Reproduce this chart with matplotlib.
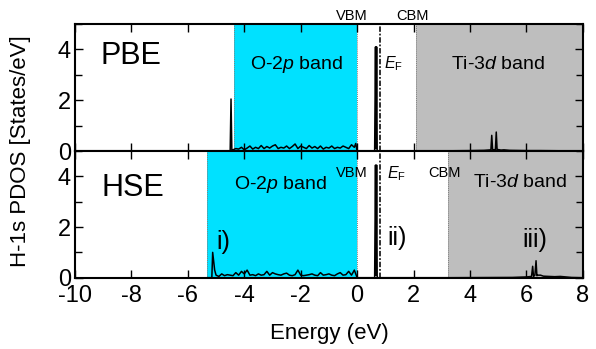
import numpy as np
import matplotlib.pyplot as plt
from matplotlib.ticker import MultipleLocator

plt.rcParams["font.family"] = ["Liberation Sans", "DejaVu Sans"]
plt.rcParams["mathtext.fontset"] = "custom"
plt.rcParams["mathtext.rm"] = "Liberation Sans"
plt.rcParams["mathtext.it"] = "Liberation Sans:italic"
plt.rcParams["axes.unicode_minus"] = False

# H-1s PDOS (energy in eV, states/eV)
pbe_energy = [-4.60, -4.50, -4.47, -4.44, -4.40, -4.30, -4.20, -4.10, -4.00, -3.90, -3.80, -3.70,
              -3.60, -3.50, -3.40, -3.30, -3.20, -3.10, -3.00, -2.90, -2.80, -2.70, -2.60,
              -2.50, -2.40, -2.30, -2.20, -2.10, -2.00, -1.90, -1.80, -1.70, -1.60, -1.50,
              -1.40, -1.30, -1.20, -1.10, -1.00, -0.90, -0.80, -0.70, -0.60, -0.50, -0.40,
              -0.30, -0.20, -0.10, -0.05, 0.00, 0.62, 0.65, 0.67, 0.69, 0.71, 0.73, 2.10,
              4.00, 4.50, 4.74, 4.77, 4.80, 4.90, 4.93, 4.96, 5.00, 5.10, 5.20, 5.40, 6.00,
              6.50, 7.50, 8.00]
pbe_dos = [0.00, 0.00, 2.05, 0.00, 0.05, 0.10, 0.08, 0.15, 0.05, 0.12, 0.20, 0.08,
           0.15, 0.10, 0.22, 0.10, 0.18, 0.12, 0.20, 0.25, 0.10, 0.15, 0.12,
           0.20, 0.10, 0.18, 0.28, 0.10, 0.20, 0.15, 0.10, 0.22, 0.12, 0.18,
           0.10, 0.20, 0.08, 0.15, 0.12, 0.20, 0.10, 0.15, 0.12, 0.20, 0.15,
           0.10, 0.25, 0.15, 0.30, 0.00, 0.00, 4.10, 0.10, 4.10, 0.00, 0.00, 0.00,
           0.02, 0.03, 0.05, 0.62, 0.05, 0.06, 0.75, 0.05, 0.06, 0.04, 0.05, 0.03, 0.02,
           0.02, 0.01, 0.00]

hse_energy = [-5.30, -5.15, -5.12, -5.05, -5.00, -4.90, -4.80, -4.70, -4.60, -4.50, -4.40,
              -4.30, -4.20, -4.10, -4.00, -3.90, -3.80, -3.70, -3.60, -3.50, -3.40, -3.30,
              -3.20, -3.10, -3.00, -2.90, -2.80, -2.70, -2.60, -2.50, -2.40, -2.30, -2.20,
              -2.10, -2.00, -1.90, -1.80, -1.70, -1.60, -1.50, -1.40, -1.30, -1.20, -1.10,
              -1.00, -0.90, -0.80, -0.70, -0.60, -0.50, -0.40, -0.30, -0.20, -0.10, 0.00,
              0.62, 0.65, 0.67, 0.69, 0.71, 0.73, 3.30, 5.50, 6.00, 6.18, 6.22, 6.25, 6.30,
              6.34, 6.37, 6.40, 6.50, 6.60, 6.80, 7.00, 7.20, 7.40, 7.60, 8.00]
hse_dos = [0.00, 0.00, 1.00, 0.30, 0.10, 0.05, 0.15, 0.08, 0.12, 0.10, 0.08,
           0.20, 0.10, 0.25, 0.15, 0.30, 0.10, 0.12, 0.08, 0.15, 0.10, 0.12,
           0.25, 0.10, 0.20, 0.15, 0.12, 0.10, 0.15, 0.18, 0.10, 0.08, 0.12,
           0.30, 0.10, 0.08, 0.10, 0.12, 0.15, 0.10, 0.08, 0.20, 0.10, 0.12,
           0.15, 0.10, 0.08, 0.15, 0.20, 0.10, 0.12, 0.25, 0.10, 0.30, 0.00,
           0.00, 4.45, 0.10, 4.45, 0.00, 0.00, 0.00, 0.01, 0.03, 0.05, 0.45, 0.05, 0.10,
           0.67, 0.08, 0.10, 0.10, 0.06, 0.05, 0.04, 0.05, 0.03, 0.01, 0.00]

# band edges and Fermi level (eV)
pbe_o2p_start, pbe_vbm, pbe_cbm = -4.37, 0.0, 2.08
hse_o2p_start, hse_vbm, hse_cbm = -5.33, 0.0, 3.22
fermi_level = 0.81

cyan = "#00e1ff"
gray = "#bebebe"

fig = plt.figure(figsize=(5.96, 3.49), dpi=100)
ax_top = fig.add_axes([0.1258, 0.5670, 0.8522, 0.3642])
ax_bot = fig.add_axes([0.1258, 0.2043, 0.8522, 0.3627])

panels = [
    (ax_top, pbe_energy, pbe_dos, pbe_o2p_start, pbe_vbm, pbe_cbm),
    (ax_bot, hse_energy, hse_dos, hse_o2p_start, hse_vbm, hse_cbm),
]

for ax, energy, dos, o2p_start, vbm, cbm in panels:
    ax.axvspan(o2p_start, vbm, color=cyan, lw=0, zorder=0)
    ax.axvspan(cbm, 8, color=gray, lw=0, zorder=0)
    for edge in [o2p_start, vbm, cbm]:
        ax.axvline(edge, color="#808080", lw=0.7, ls=(0, (1, 1)), zorder=1)
    ax.axvline(fermi_level, color="#222222", lw=1.3, ls=(0, (3, 1, 1, 1)), zorder=2)
    ax.plot(energy, dos, color="black", lw=1.1, zorder=3)
    ax.set_xlim(-10, 8)
    ax.set_ylim(0, 5)
    ax.xaxis.set_major_locator(MultipleLocator(2))
    ax.yaxis.set_major_locator(MultipleLocator(2))
    ax.yaxis.set_minor_locator(MultipleLocator(1))
    ax.tick_params(which="both", direction="in", top=True, right=True, width=1.0,
                   labelsize=17, pad=3)
    ax.tick_params(axis="x", pad=5)
    ax.tick_params(which="major", length=6)
    ax.tick_params(which="minor", length=5)
    ax.set_yticks([0, 2, 4])
    for side in ["top", "right", "bottom", "left"]:
        ax.spines[side].set_linewidth(1.5)

ax_top.tick_params(labelbottom=False)

# top panel texts
ax_top.text(-9.1, 3.75, "PBE", fontsize=22, ha="left", va="center")
ax_top.text(-2.15, 3.4, "O-2$\\it{p}$ band", fontsize=14, ha="center", va="center")
ax_top.text(5.0, 3.4, "Ti-3$\\it{d}$ band", fontsize=14, ha="center", va="center")
ax_top.text(0.95, 3.45, "$\\it{E}_{\\rm F}$", fontsize=11.5, ha="left", va="center")
ax_top.text(-0.2, 5.05, "VBM", fontsize=10.5, ha="center", va="bottom")
ax_top.text(1.95, 5.05, "CBM", fontsize=10.5, ha="center", va="bottom")

# bottom panel texts
ax_bot.text(-9.05, 3.55, "HSE", fontsize=22, ha="left", va="center")
ax_bot.text(-2.7, 3.7, "O-2$\\it{p}$ band", fontsize=14, ha="center", va="center")
ax_bot.text(5.77, 3.75, "Ti-3$\\it{d}$ band", fontsize=14, ha="center", va="center")
ax_bot.text(1.05, 4.1, "$\\it{E}_{\\rm F}$", fontsize=11.5, ha="left", va="center")
ax_bot.text(-0.2, 4.15, "VBM", fontsize=10.5, ha="center", va="center")
ax_bot.text(3.09, 4.15, "CBM", fontsize=10.5, ha="center", va="center")
ax_bot.text(-4.75, 1.4, "i)", fontsize=18, ha="center", va="center")
ax_bot.text(1.42, 1.55, "ii)", fontsize=18, ha="center", va="center")
ax_bot.text(6.3, 1.5, "iii)", fontsize=18, ha="center", va="center")

ax_bot.set_xlabel("Energy (eV)", fontsize=16, labelpad=12)
fig.text(0.035, 0.567, "H-1s PDOS [States/eV]", fontsize=16, rotation=90,
         ha="center", va="center")

fig.savefig("out.png", dpi=100)
